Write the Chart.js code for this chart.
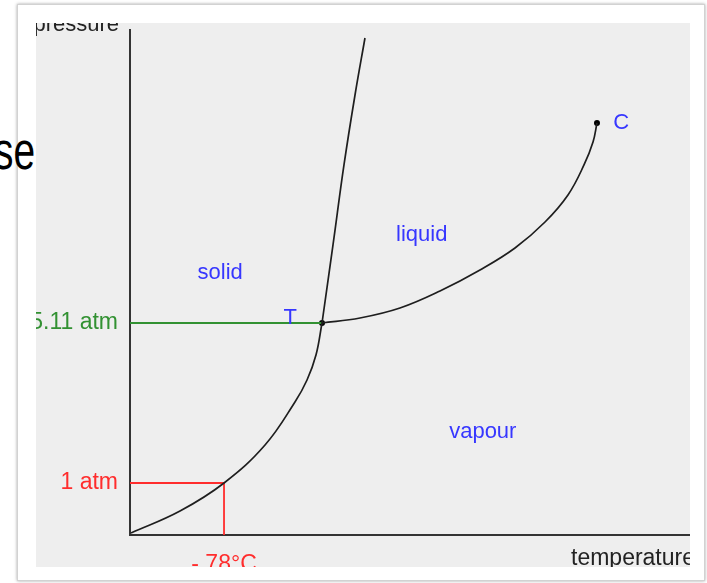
<!DOCTYPE html>
<html>
<head>
<meta charset="utf-8">
<script src="https://cdn.jsdelivr.net/npm/chart.js@4.4.1/dist/chart.umd.min.js"></script>
<style>
html,body{margin:0;padding:0;background:#fff;width:707px;height:583px;overflow:hidden;position:relative;font-family:"Liberation Sans",Arial,sans-serif}
#card{position:absolute;left:17px;top:4px;width:686px;height:575px;background:#fff;border:1px solid #d2d2d2;box-shadow:0 0 3px rgba(0,0,0,0.35)}
#bg{position:absolute;right:672px;top:120px;font-size:54px;line-height:60px;color:#000;transform:scaleX(0.72);transform-origin:right center;white-space:nowrap}
#panel{position:absolute;left:36px;top:23px;width:654px;height:544px;background:#eeeeee;overflow:hidden}
canvas{display:block}
</style>
</head>
<body>
<div id="card"></div>
<div id="bg">se</div>
<div id="panel"><canvas id="c" width="654" height="544"></canvas></div>
<script>
// ---- data (schematic units: temperature 0-100, pressure 0-100) ----
const sublimationT = [0.18, 8.93, 16.79, 24.11, 29.46, 31.61, 33.21, 34.29];
const sublimationP = [0.40, 4.75, 10.30, 17.82, 26.34, 30.69, 35.64, 41.98];
const meltingT = [34.29, 36.25, 38.21, 40.18, 41.96];
const meltingP = [41.98, 57.43, 73.27, 87.13, 98.42];
const vaporT = [34.29, 41.07, 48.21, 55.36, 62.50, 68.75, 74.11, 78.21, 81.07, 82.68, 83.39];
const vaporP = [41.98, 42.97, 44.95, 48.32, 52.48, 56.83, 61.98, 67.33, 73.27, 77.82, 81.58];
const specialT = [34.29, 83.39];   // triple point T, critical point C
const specialP = [41.98, 81.58];
const oneAtmP = 10.30;
const dryIceT = 16.79;
const yTickValues = [10.30, 41.98];
const yTickLabels = ['1 atm', '5.11 atm'];
const xTickValues = [16.79];
const xTickLabels = ['- 78°C'];
const regionLabels = ['solid', 'liquid', 'vapour', 'T', 'C'];
const regionT = [16.1, 52.1, 63.0, 28.6, 87.7];
const regionP = [51.9, 59.4, 20.4, 43.0, 81.6];
const yAxisTitle = 'pressure';
const xAxisTitle = 'temperature';

const FONT = '"Liberation Sans", Arial, sans-serif';
const BLUE = 'rgb(55,55,255)';
const GREEN = 'rgb(50,145,50)';
const RED = 'rgb(255,45,45)';
const INK = '#1e1e1e';

const pts = (xs, ys) => xs.map((v, i) => ({x: v, y: ys[i]}));

const textPlugin = {
  id: 'phaseText',
  afterDatasetsDraw(chart) {
    const {ctx, scales: {x, y}, chartArea} = chart;
    ctx.save();
    ctx.font = '22px ' + FONT;
    ctx.fillStyle = BLUE;
    ctx.textAlign = 'center';
    ctx.textBaseline = 'middle';
    regionLabels.forEach((s, i) => {
      ctx.fillText(s, x.getPixelForValue(regionT[i]), y.getPixelForValue(regionP[i]));
    });
    ctx.fillStyle = '#222';
    ctx.textBaseline = 'alphabetic';
    ctx.textAlign = 'right';
    ctx.fillText(yAxisTitle, chartArea.left - 11, chartArea.top + 1);
    ctx.font = '23px ' + FONT;
    ctx.textAlign = 'left';
    ctx.fillText(xAxisTitle, chartArea.right - 119, chartArea.bottom + 30);
    ctx.restore();
  }
};

new Chart(document.getElementById('c'), {
  type: 'scatter',
  data: {
    datasets: [
      {data: pts(sublimationT, sublimationP), showLine: true, borderColor: INK, borderWidth: 1.7, pointRadius: 0, tension: 0.4},
      {data: pts(meltingT, meltingP), showLine: true, borderColor: INK, borderWidth: 1.7, pointRadius: 0, tension: 0.4},
      {data: pts(vaporT, vaporP), showLine: true, borderColor: INK, borderWidth: 1.7, pointRadius: 0, tension: 0.4},
      {data: [{x: 0, y: specialP[0]}, {x: specialT[0], y: specialP[0]}], showLine: true, borderColor: GREEN, borderWidth: 1.8, pointRadius: 0},
      {data: [{x: 0, y: oneAtmP}, {x: dryIceT, y: oneAtmP}, {x: dryIceT, y: 0}], showLine: true, borderColor: RED, borderWidth: 1.8, pointRadius: 0},
      {data: pts(specialT, specialP), showLine: false, pointRadius: 3, pointHoverRadius: 3, pointBackgroundColor: '#000', pointBorderColor: '#000', pointBorderWidth: 0}
    ]
  },
  options: {
    responsive: false,
    animation: false,
    devicePixelRatio: 1,
    layout: {autoPadding: false, padding: {top: 7, left: 0, right: 0, bottom: 0}},
    plugins: {legend: {display: false}, tooltip: {enabled: false}, title: {display: false}},
    scales: {
      x: {
        type: 'linear', min: 0, max: 100,
        grid: {display: false, drawTicks: false},
        border: {display: true, color: '#333', width: 2},
        afterBuildTicks: s => { s.ticks = xTickValues.map(v => ({value: v})); },
        afterFit: s => { s.height = 32; s.paddingLeft = 0; s.paddingRight = 0; },
        ticks: {
          autoSkip: false, maxRotation: 0, padding: 16,
          color: RED, font: {size: 23, family: FONT},
          callback: (v, i) => xTickLabels[i]
        }
      },
      y: {
        type: 'linear', min: 0, max: 100,
        grid: {display: false, drawTicks: false},
        border: {display: true, color: '#333', width: 2},
        afterBuildTicks: s => { s.ticks = yTickValues.map(v => ({value: v})); },
        afterFit: s => { s.width = 94; s.paddingTop = 0; s.paddingBottom = 0; },
        ticks: {
          autoSkip: false, padding: 12,
          color: ctx => (ctx.index === 0 ? RED : GREEN),
          font: {size: 23, family: FONT},
          callback: (v, i) => yTickLabels[i]
        }
      }
    }
  },
  plugins: [textPlugin]
});
</script>
</body>
</html>
